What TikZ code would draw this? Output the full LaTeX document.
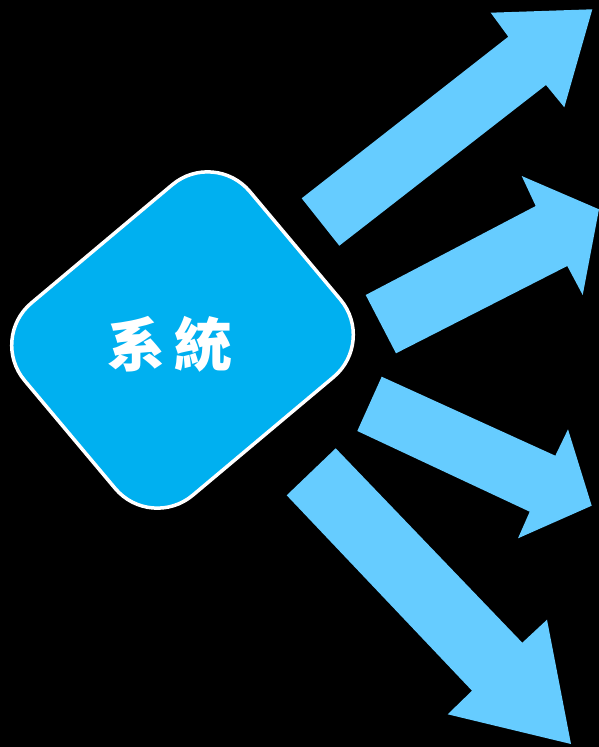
\documentclass[tikz,border=0pt]{standalone}
\usepackage{fontspec}
\newfontfamily\cjk{Noto Sans CJK TC}
\definecolor{arrowblue}{HTML}{66CCFF}
\definecolor{boxblue}{HTML}{00B0F0}
\begin{document}
\begin{tikzpicture}[x=1pt,y=-1pt,
	arrow/.style={fill=arrowblue},
	box/.style={fill=boxblue,draw=white,line width=3.5pt,rounded corners=55pt}]

% background
\useasboundingbox (0,0) rectangle (599,747);
\fill[black] (0,0) rectangle (599,747);

% system box
\begin{scope}[shift={(182.5,340)},rotate=40]
\draw[box] (-147,-125.5) rectangle (147,125.5);
\end{scope}
\node[font=\cjk\bfseries\fontsize{58}{58}\selectfont,text=white] (sys) at (170,344) {系\hspace{9pt}統};

%arrows
\fill[arrow] (301.7,198.3)--(508.3,36.7)--(490.7,12.7)--(592.3,9.3)--(564.3,107.3)--(546,85)--(339.3,245.7)--cycle;
\fill[arrow] (365.7,295)--(535.7,206)--(521.7,176)--(599,209.3)--(582.7,295)--(567.3,266)--(396,353.3)--cycle;
\fill[arrow] (381.7,376.7)--(555.3,455.7)--(568,429.3)--(591.7,505.7)--(518,538.3)--(529.7,511.7)--(357.3,431)--cycle;
\fill[arrow] (335.7,448.3)--(522.3,642.7)--(547,619.7)--(571,744)--(447.7,714.3)--(472,690.7)--(286.7,495.3)--cycle;

\end{tikzpicture}
\end{document}
